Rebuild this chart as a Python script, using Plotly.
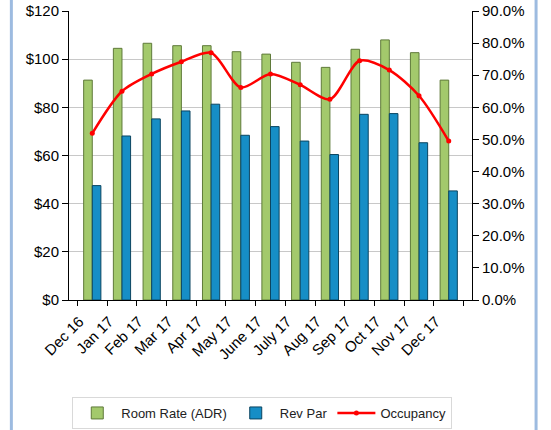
import plotly.graph_objects as go

categories = ["Dec 16", "Jan 17", "Feb 17", "Mar 17", "Apr 17", "May 17", "June 17",
              "July 17", "Aug 17", "Sep 17", "Oct 17", "Nov 17", "Dec 17"]
adr = [91.3, 104.5, 106.6, 105.6, 105.6, 103.1, 102.1, 98.7, 96.6, 104.1, 108.0, 102.7, 91.3]
revpar = [47.5, 68.1, 75.2, 78.5, 81.3, 68.4, 72.0, 66.0, 60.4, 77.1, 77.4, 65.3, 45.3]
occupancy = [0.519, 0.650, 0.704, 0.742, 0.770, 0.662, 0.704, 0.670, 0.625, 0.745, 0.716, 0.636, 0.495]

left_ticks = [0, 20, 40, 60, 80, 100, 120]
left_labels = ["$0", "$20", "$40", "$60", "$80", "$100", "$120"]
right_ticks = [0, 0.1, 0.2, 0.3, 0.4, 0.5, 0.6, 0.7, 0.8, 0.9]
right_labels = ["0.0%", "10.0%", "20.0%", "30.0%", "40.0%", "50.0%", "60.0%", "70.0%", "80.0%", "90.0%"]

fig = go.Figure()
fig.add_trace(go.Bar(x=categories, y=adr, name="Room Rate (ADR)",
                     marker=dict(color="#a3c96c", line=dict(color="#5f7a3a", width=1))))
fig.add_trace(go.Bar(x=categories, y=revpar, name="Rev Par",
                     marker=dict(color="#168ec6", line=dict(color="#0b4560", width=1))))
fig.add_trace(go.Scatter(x=categories, y=occupancy, name="Occupancy", yaxis="y2",
                         mode="lines+markers", line=dict(color="#ff0000", width=2.5, shape="spline", smoothing=0.8),
                         marker=dict(color="#ff0000", size=5)))

axis_font = dict(family="Liberation Sans, Arial, sans-serif", size=15, color="#000000")

fig.update_layout(
    width=551, height=430,
    margin=dict(l=69, r=79, t=11, b=130, autoexpand=False),
    paper_bgcolor="white", plot_bgcolor="white",
    barmode="group", bargap=0.42, bargroupgap=0.0,
    showlegend=True,
    legend=dict(orientation="h", x=0.476, xanchor="center", xref="container",
                y=1 - 397 / 430, yanchor="top", yref="container",
                bordercolor="#d9d9d9", borderwidth=1,
                font=dict(family="Liberation Sans, Arial, sans-serif", size=13, color="#222"),
                itemwidth=38, entrywidthmode="pixels"),
    xaxis=dict(tickangle=-45, tickfont=dict(family="Liberation Sans, Arial, sans-serif", size=15, color="#000"),
               showline=True, linecolor="#000", linewidth=1, showgrid=False, automargin=False,
               ticklabelshift=-13, ticklabelstandoff=6,
               ticks="outside", ticklen=5, tickcolor="#000", tickson="boundaries"),
    yaxis=dict(range=[0, 120], tickvals=left_ticks, ticktext=left_labels, tickfont=axis_font,
               showline=True, linecolor="#000", linewidth=1, automargin=False,
               showgrid=True, gridcolor="#c8c8c8", gridwidth=1,
               ticks="outside", ticklen=6, tickcolor="#000", zeroline=False),
    yaxis2=dict(range=[0, 0.9], tickvals=right_ticks, ticktext=right_labels, tickfont=axis_font,
                overlaying="y", side="right", showline=True, linecolor="#000", linewidth=1, automargin=False,
                showgrid=False, ticks="outside", ticklen=6, tickcolor="#000", zeroline=False),
    shapes=[
        dict(type="line", xref="paper", yref="paper", x0=-0.143, x1=-0.143, y0=-0.5, y1=1.05,
             line=dict(color="#9dbbe0", width=3)),
        dict(type="line", xref="paper", yref="paper", x0=1.159, x1=1.159, y0=-0.5, y1=1.05,
             line=dict(color="#9dbbe0", width=3)),
    ],
)

fig.write_html("out.html")
